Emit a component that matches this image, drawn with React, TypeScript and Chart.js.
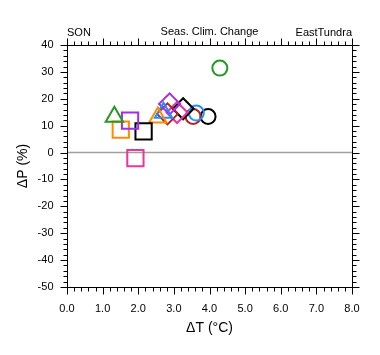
import React, { useEffect, useRef } from "react";
import { Chart, registerables } from "chart.js";

Chart.register(...registerables);

// ---- data ----
const deltaT = [1.33, 1.77, 1.51, 2.15, 1.92, 2.55, 2.71, 2.88, 2.82, 3.09, 3.26, 3.63, 3.54, 3.96, 4.29];
const deltaP = [13.3, 11.9, 8.5, 7.9, -2.1, 13.0, 14.8, 18.1, 14.4, 14.9, 16.3, 14.7, 13.4, 13.4, 31.4];
const pointColors = [
  "#229922", "#a52af0", "#ff8c00", "#000000", "#ee3399",
  "#ff8c00", "#1e90ff", "#a52af0", "#b22222", "#ee3399",
  "#000000", "#1e90ff", "#b22222", "#000000", "#229922",
];
const pointShapes = [
  "triangle", "rect", "rect", "rect", "rect",
  "triangle", "triangle", "rectRot", "rectRot", "rectRot",
  "rectRot", "circle", "circle", "circle", "circle",
];
const xTickValues = [0, 1, 2, 3, 4, 5, 6, 7, 8];
const yTickValues = [-50, -40, -30, -20, -10, 0, 10, 20, 30, 40];
const titleLeft = "SON";
const titleCenter = "Seas. Clim. Change";
const titleRight = "EastTundra";
const xTitle = "ΔT (°C)";
const yTitle = "ΔP (%)";

const shapeRadius: Record<string, number> = { circle: 7.5, rect: 11.5, rectRot: 10.5, triangle: 10 };
const FONT = "'Liberation Sans', Arial, Helvetica, sans-serif";

const axesPlugin = {
  id: "nclAxes",
  beforeDatasetsDraw(chart: any) {
    const { ctx, chartArea: a, scales } = chart;
    const y0 = scales.y.getPixelForValue(0);
    ctx.save();
    ctx.strokeStyle = "#a0a0a0";
    ctx.lineWidth = 1.5;
    ctx.beginPath();
    ctx.moveTo(a.left, y0);
    ctx.lineTo(a.right, y0);
    ctx.stroke();
    ctx.restore();
  },
  afterDraw(chart: any) {
    const { ctx, chartArea: a, scales } = chart;
    const xs = scales.x;
    const ys = scales.y;
    ctx.save();
    ctx.strokeStyle = "#000";
    ctx.lineWidth = 1;
    const L = Math.round(a.left) + 0.5;
    const R = Math.round(a.right) + 0.5;
    const T = Math.round(a.top) + 0.5;
    const B = Math.round(a.bottom) + 0.5;
    ctx.strokeRect(L, T, R - L, B - T);
    const major = 7;
    const minor = 4;
    ctx.beginPath();
    // x ticks (major every 1, minor every 0.2)
    for (let i = 0; i <= 40; i++) {
      const v = i * 0.2;
      const px = Math.round(xs.getPixelForValue(v)) + 0.5;
      const len = i % 5 === 0 ? major : minor;
      ctx.moveTo(px, B);
      ctx.lineTo(px, B + len);
      ctx.moveTo(px, T);
      ctx.lineTo(px, T - len);
    }
    // y ticks (major every 10, minor every 2)
    for (let i = 0; i <= 45; i++) {
      const v = -50 + i * 2;
      const py = Math.round(ys.getPixelForValue(v)) + 0.5;
      const len = i % 5 === 0 ? major : minor;
      ctx.moveTo(L, py);
      ctx.lineTo(L - len, py);
      ctx.moveTo(R, py);
      ctx.lineTo(R + len, py);
    }
    ctx.stroke();

    ctx.fillStyle = "#000";
    ctx.font = `11px ${FONT}`;
    ctx.textAlign = "center";
    ctx.textBaseline = "middle";
    for (const v of xTickValues) {
      ctx.fillText(v.toFixed(1), xs.getPixelForValue(v), B + 21);
    }
    ctx.textAlign = "right";
    for (const v of yTickValues) {
      ctx.fillText(String(v), L - 14, ys.getPixelForValue(v));
    }

    // titles
    ctx.font = `11px ${FONT}`;
    ctx.textBaseline = "alphabetic";
    ctx.textAlign = "left";
    ctx.fillText(titleLeft, a.left, 36);
    ctx.textAlign = "center";
    ctx.fillText(titleCenter, (a.left + a.right) / 2, 35);
    ctx.textAlign = "right";
    ctx.fillText(titleRight, a.right, 36);

    // axis titles
    ctx.font = `14px ${FONT}`;
    ctx.textAlign = "center";
    ctx.textBaseline = "middle";
    ctx.fillText(xTitle, (a.left + a.right) / 2, 328);
    ctx.translate(23, (a.top + a.bottom) / 2);
    ctx.rotate(-Math.PI / 2);
    ctx.fillText(yTitle, 0, 0);
    ctx.restore();
  },
};

export default function App() {
  const ref = useRef<HTMLCanvasElement | null>(null);
  useEffect(() => {
    document.body.style.margin = "0";
    const canvas = ref.current;
    if (!canvas) return;
    const datasets = deltaT.map((t, i) => ({
      label: `p${i}`,
      data: [{ x: t, y: deltaP[i] }],
      pointStyle: pointShapes[i] as any,
      pointRadius: shapeRadius[pointShapes[i]],
      pointHoverRadius: shapeRadius[pointShapes[i]],
      borderColor: pointColors[i],
      backgroundColor: "rgba(0,0,0,0)",
      pointBorderWidth: 2,
      borderWidth: 2,
      showLine: false,
      clip: false as any,
    }));
    const chart = new Chart(canvas, {
      type: "scatter",
      data: { datasets },
      options: {
        animation: false,
        responsive: false,
        devicePixelRatio: 1,
        layout: { padding: { left: 67, right: 28, top: 45, bottom: 68 } },
        plugins: { legend: { display: false }, tooltip: { enabled: false }, title: { display: false } },
        scales: {
          x: { type: "linear", min: 0, max: 8, display: false },
          y: { type: "linear", min: -50, max: 40, display: false },
        },
      },
      plugins: [axesPlugin],
    });
    return () => chart.destroy();
  }, []);
  return (
    <div style={{ position: "absolute", left: 0, top: 0, width: 380, height: 355, background: "#fff" }}>
      <canvas ref={ref} width={380} height={355} style={{ width: 380, height: 355 }} />
    </div>
  );
}
